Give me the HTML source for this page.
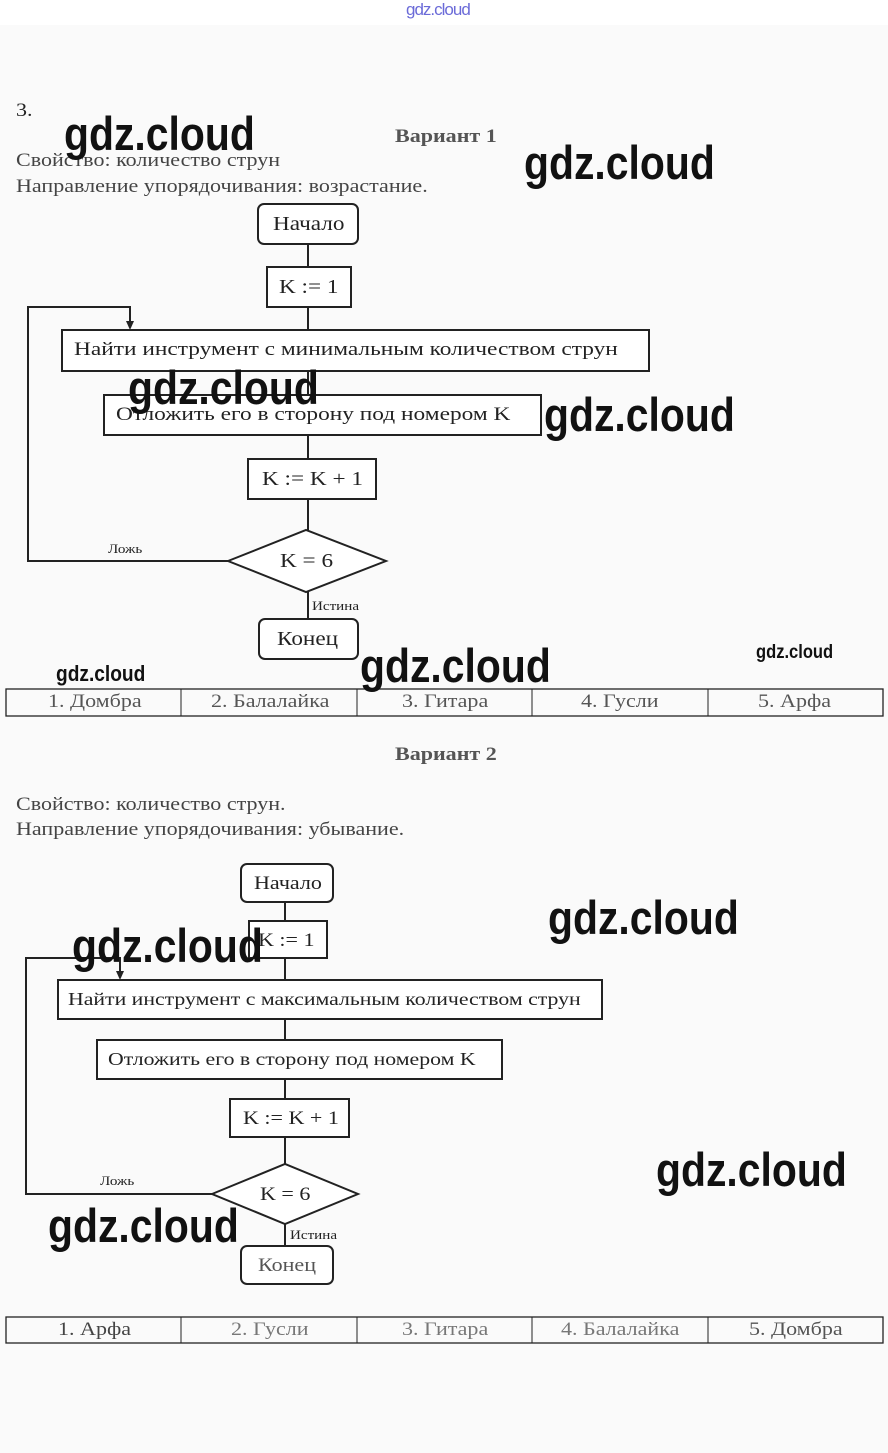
<!DOCTYPE html>
<html><head><meta charset="utf-8"><style>
body{margin:0;width:888px;height:1453px;background:#fafafa;position:relative;overflow:hidden;font-family:"Liberation Serif",serif;color:#222}
.t{position:absolute;white-space:nowrap;font-size:19px;transform:scaleX(1.16);transform-origin:0 0}
.b{transform:scaleX(1.23)}
.w{position:absolute;white-space:nowrap;font-family:"Liberation Sans",sans-serif;font-weight:bold;font-size:47px;color:#111;line-height:1;transform:scaleX(0.87);transform-origin:0 0}
.top{position:absolute;left:0;top:0;width:888px;height:25px;background:#fff}
</style></head><body>
<div class="top"></div>
<div class="t" style="left:406px;top:0px;font-family:'Liberation Sans',sans-serif;font-size:17px;color:#6b6bd8;letter-spacing:-1px;transform:none">gdz.cloud</div>
<svg width="888" height="1453" style="position:absolute;left:0;top:0" fill="none" stroke="#222" stroke-width="2">
<line x1="308" y1="244" x2="308" y2="619"/>
<rect x="258" y="204" width="100" height="40" rx="6" fill="#fff"/>
<rect x="267" y="267" width="84" height="40" fill="#fff"/>
<rect x="62" y="330" width="587" height="41" fill="#fff"/>
<rect x="104" y="395" width="437" height="40" fill="#fff"/>
<rect x="248" y="459" width="128" height="40" fill="#fff"/>
<polygon points="228,561 306,530 386,561 306,592" fill="#fff"/>
<polyline points="228,561 28,561 28,307 130,307 130,322"/>
<path d="M126,321 L134,321 L130,330z" fill="#222" stroke="none"/>
<rect x="259" y="619" width="99" height="40" rx="6" fill="#fff"/>
<rect x="6" y="689" width="877" height="27" stroke-width="1.3"/>
<g stroke-width="1"><line x1="181" y1="689" x2="181" y2="716"/><line x1="357" y1="689" x2="357" y2="716"/><line x1="532" y1="689" x2="532" y2="716"/><line x1="708" y1="689" x2="708" y2="716"/></g>
<line x1="285" y1="902" x2="285" y2="1246"/>
<rect x="241" y="864" width="92" height="38" rx="6" fill="#fff"/>
<rect x="249" y="921" width="78" height="37" fill="#fff"/>
<rect x="58" y="980" width="544" height="39" fill="#fff"/>
<rect x="97" y="1040" width="405" height="39" fill="#fff"/>
<rect x="230" y="1099" width="119" height="38" fill="#fff"/>
<polygon points="212,1194 285,1164 358,1194 285,1224" fill="#fff"/>
<polyline points="212,1194 26,1194 26,958 120,958 120,972"/>
<path d="M116,971 L124,971 L120,980z" fill="#222" stroke="none"/>
<rect x="241" y="1246" width="92" height="38" rx="6" fill="#fff"/>
<rect x="6" y="1317" width="877" height="26" stroke-width="1.3"/>
<g stroke-width="1"><line x1="181" y1="1317" x2="181" y2="1343"/><line x1="357" y1="1317" x2="357" y2="1343"/><line x1="532" y1="1317" x2="532" y2="1343"/><line x1="708" y1="1317" x2="708" y2="1343"/></g>
</svg>
<div class="t" style="left:16px;top:100px">3.</div>
<div class="t" style="left:395px;top:126px;font-weight:bold;color:#555">Вариант 1</div>
<div class="t" style="left:16px;top:150px;color:#444">Свойство: количество струн</div>
<div class="t" style="left:16px;top:176px;color:#444">Направление упорядочивания: возрастание.</div>
<div class="t" style="left:273px;top:213px;font-size:20px">Начало</div>
<div class="t" style="left:279px;top:276px;font-size:20px">K := 1</div>
<div class="t b" style="left:74px;top:339px">Найти инструмент с минимальным количеством струн</div>
<div class="t b" style="left:116px;top:404px">Отложить его в сторону под номером K</div>
<div class="t" style="left:262px;top:468px;font-size:20px">K := K + 1</div>
<div class="t" style="left:280px;top:550px;font-size:20px">K = 6</div>
<div class="t" style="left:108px;top:541px;font-size:13px">Ложь</div>
<div class="t" style="left:312px;top:598px;font-size:13px">Истина</div>
<div class="t" style="left:277px;top:628px;font-size:20px">Конец</div>
<div class="t" style="left:48px;top:691px;color:#555">1. Домбра</div>
<div class="t" style="left:211px;top:691px;color:#555">2. Балалайка</div>
<div class="t" style="left:402px;top:691px;color:#555">3. Гитара</div>
<div class="t" style="left:581px;top:691px;color:#555">4. Гусли</div>
<div class="t" style="left:758px;top:691px;color:#555">5. Арфа</div>
<div class="t" style="left:395px;top:744px;font-weight:bold;color:#555">Вариант 2</div>
<div class="t" style="left:16px;top:794px;color:#444">Свойство: количество струн.</div>
<div class="t" style="left:16px;top:819px;color:#444">Направление упорядочивания: убывание.</div>
<div class="t" style="left:254px;top:873px">Начало</div>
<div class="t" style="left:258px;top:930px">K := 1</div>
<div class="t b" style="left:68px;top:989px;font-size:18px;transform:scaleX(1.21)">Найти инструмент с максимальным количеством струн</div>
<div class="t b" style="left:108px;top:1049px;font-size:18px;transform:scaleX(1.21)">Отложить его в сторону под номером K</div>
<div class="t" style="left:243px;top:1108px">K := K + 1</div>
<div class="t" style="left:260px;top:1184px">K = 6</div>
<div class="t" style="left:100px;top:1173px;font-size:13px">Ложь</div>
<div class="t" style="left:290px;top:1227px;font-size:13px">Истина</div>
<div class="t" style="left:258px;top:1255px;color:#555">Конец</div>
<div class="t" style="left:58px;top:1319px;color:#444">1. Арфа</div>
<div class="t" style="left:231px;top:1319px;color:#777">2. Гусли</div>
<div class="t" style="left:402px;top:1319px;color:#777">3. Гитара</div>
<div class="t" style="left:561px;top:1319px;color:#777">4. Балалайка</div>
<div class="t" style="left:749px;top:1319px;color:#555">5. Домбра</div>
<div class="w" style="left:64px;top:110px">gdz.cloud</div>
<div class="w" style="left:524px;top:139px">gdz.cloud</div>
<div class="w" style="left:128px;top:364px">gdz.cloud</div>
<div class="w" style="left:544px;top:391px">gdz.cloud</div>
<div class="w" style="left:360px;top:642px">gdz.cloud</div>
<div class="w" style="left:56px;top:663px;font-size:22px">gdz.cloud</div>
<div class="w" style="left:756px;top:643px;font-size:19px">gdz.cloud</div>
<div class="w" style="left:548px;top:894px">gdz.cloud</div>
<div class="w" style="left:72px;top:922px">gdz.cloud</div>
<div class="w" style="left:656px;top:1146px">gdz.cloud</div>
<div class="w" style="left:48px;top:1202px">gdz.cloud</div>
</body></html>
